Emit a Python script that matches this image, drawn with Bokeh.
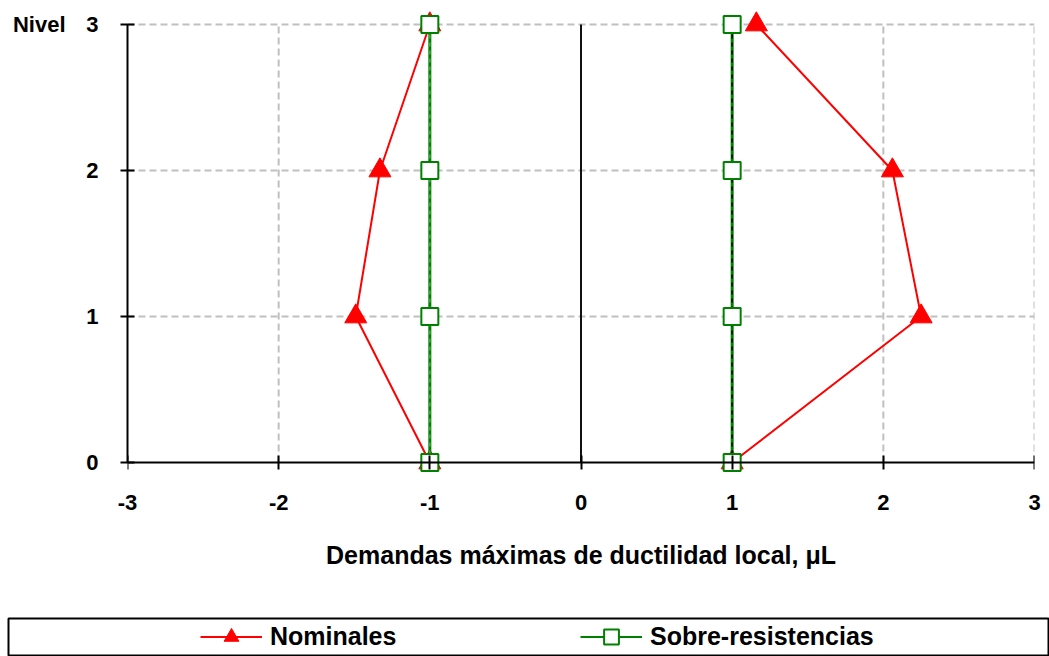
from bokeh.plotting import figure
from bokeh.models import (Range1d, FixedTicker, Legend, LegendItem,
                          ColumnDataSource, LinearAxis)
from bokeh.layouts import column
from bokeh.embed import file_html
from bokeh.resources import INLINE

# ---- data ----
niveles = [0, 1, 2, 3]
nominales_neg = [-1.0, -1.49, -1.33, -1.0]
nominales_pos = [1.0, 2.25, 2.06, 1.16]
sobre_neg = [-1.0, -1.0, -1.0, -1.0]
sobre_pos = [1.0, 1.0, 1.0, 1.0]
x_ticks = [-3, -2, -1, 0, 1, 2, 3]
y_ticks = [0, 1, 2, 3]
x_title = "Demandas máximas de ductilidad local, μL"
y_title = "Nivel"
serie_labels = ["Nominales", "Sobre-resistencias"]

FONT = "Liberation Sans"
RED = "#ff0000"
GREEN = "#008000"

X0, X1 = x_ticks[0], x_ticks[-1]
Y0, Y1 = y_ticks[0], y_ticks[-1]
PAD = 15 / 146.0  # room so markers on the outer levels are not cut

p = figure(width=1049, height=617, output_backend="svg", toolbar_location=None,
           x_range=Range1d(X0, X1), y_range=Range1d(Y0 - PAD, Y1 + PAD),
           min_border_left=127, min_border_right=15, min_border_top=9,
           min_border_bottom=140)
p.outline_line_color = None
p.background_fill_color = "white"
p.border_fill_color = "white"
p.grid.visible = False

# grid lines (dashed) bounded to the data box
gx = [t for t in x_ticks if t not in (X0, 0)]
gy = [t for t in y_ticks if t != Y0]
p.segment(x0=gx, y0=[Y0] * len(gx), x1=gx, y1=[Y1] * len(gx),
          line_color="#c0c0c0", line_width=2, line_dash="7 4")
p.segment(x0=[X0] * len(gy), y0=gy, x1=[X1] * len(gy), y1=gy,
          line_color="#c0c0c0", line_width=2, line_dash="7 4")
# zero line
p.segment(x0=[0], y0=[Y0], x1=[0], y1=[Y1], line_color="#111111", line_width=2)

def style_axis(ax):
    ax.axis_line_width = 2
    ax.axis_line_color = "black"
    ax.major_tick_line_width = 2
    ax.major_tick_line_color = "black"
    ax.major_tick_in = 7
    ax.major_tick_out = 7
    ax.minor_tick_line_color = None
    ax.major_label_text_font = FONT
    ax.major_label_text_font_style = "bold"
    ax.major_label_text_font_size = "22px"
    ax.major_label_text_color = "black"

# bottom axis: only tick labels and title
xa = p.xaxis[0]
style_axis(xa)
xa.axis_line_color = None
xa.major_tick_line_color = None
xa.major_tick_in = 0
xa.major_tick_out = 0
xa.ticker = FixedTicker(ticks=x_ticks)
xa.major_label_overrides = {t: str(t) for t in x_ticks}
xa.major_label_standoff = 17
xa.axis_label = x_title
xa.axis_label_text_font = FONT
xa.axis_label_text_font_style = "bold"
xa.axis_label_text_font_size = "25px"
xa.axis_label_text_color = "black"
xa.axis_label_standoff = 28

# axis line + ticks at level 0
x0_axis = LinearAxis(ticker=FixedTicker(ticks=x_ticks), fixed_location=Y0,
                     bounds=(X0, X1))
style_axis(x0_axis)
x0_axis.major_label_text_color = None
x0_axis.major_label_text_font_size = "1px"
x0_axis.major_label_standoff = 0
p.add_layout(x0_axis, "below")

# left axis
ya = p.yaxis[0]
style_axis(ya)
ya.ticker = FixedTicker(ticks=y_ticks)
ya.bounds = (Y0, Y1)
ya.major_label_standoff = 22

# "Nivel" title next to the top tick
nivel_axis = LinearAxis(ticker=FixedTicker(ticks=[Y1]),
                        major_label_overrides={Y1: y_title})
nivel_axis.axis_line_color = None
nivel_axis.major_tick_line_color = None
nivel_axis.minor_tick_line_color = None
nivel_axis.major_tick_in = 0
nivel_axis.major_tick_out = 0
nivel_axis.major_label_standoff = 18
nivel_axis.major_label_text_font = FONT
nivel_axis.major_label_text_font_style = "bold"
nivel_axis.major_label_text_font_size = "22px"
nivel_axis.major_label_text_color = "black"
p.add_layout(nivel_axis, "left")

# series
src_nom_neg = ColumnDataSource(dict(x=nominales_neg, y=niveles))
src_nom_pos = ColumnDataSource(dict(x=nominales_pos, y=niveles))
src_sob_neg = ColumnDataSource(dict(x=sobre_neg, y=niveles))
src_sob_pos = ColumnDataSource(dict(x=sobre_pos, y=niveles))

for s in (src_nom_neg, src_nom_pos):
    p.line("x", "y", source=s, line_color=RED, line_width=2)
    p.scatter("x", "y", source=s, marker="triangle", size=22,
              fill_color=RED, line_color=RED)

p.line("x", "y", source=src_sob_neg, line_color=GREEN, line_width=3)
p.line("x", "y", source=src_sob_neg, line_color="#4aa84a", line_width=1.5,
       line_dash="4 4")
p.line("x", "y", source=src_sob_pos, line_color=GREEN, line_width=3)
p.line("x", "y", source=src_sob_pos, line_color="black", line_width=1.5,
       line_dash="4 4")
for s in (src_sob_neg, src_sob_pos):
    p.scatter("x", "y", source=s, marker="square", size=17,
              fill_color="white", line_color=GREEN, line_width=2)

# ---- legend box (separate strip below the chart) ----
p2 = figure(width=1049, height=39, output_backend="svg", toolbar_location=None,
            x_range=Range1d(10, 11), y_range=Range1d(10, 11),
            x_axis_location=None, y_axis_location=None,
            min_border_left=8, min_border_right=0, min_border_top=1,
            min_border_bottom=1)
p2.grid.visible = False
p2.outline_line_color = "black"
p2.outline_line_width = 2
p2.background_fill_color = "white"
p2.border_fill_color = "white"

for fig in (p, p2):
    try:
        fig.frame_align = False
    except Exception:
        pass

# legend glyph renderers (their data lies outside this strip's ranges)
l1 = p2.line("x", "y", source=src_nom_pos, line_color=RED, line_width=2)
m1 = p2.scatter("x", "y", source=src_nom_pos, marker="triangle", size=22,
                fill_color=RED, line_color=RED)
l2 = p2.line("x", "y", source=src_sob_pos, line_color=GREEN, line_width=2)
m2 = p2.scatter("x", "y", source=src_sob_pos, marker="square", size=17,
                fill_color="white", line_color=GREEN, line_width=2)

legend = Legend(items=[LegendItem(label=serie_labels[0], renderers=[l1, m1]),
                       LegendItem(label=serie_labels[1], renderers=[l2, m2])],
                orientation="horizontal", location=(192, 0),
                padding=0, margin=0, spacing=0,
                glyph_width=62, glyph_height=37, label_height=37,
                label_width=310, label_standoff=8,
                label_text_font=FONT, label_text_font_style="bold",
                label_text_font_size="25px", label_text_color="black",
                border_line_color=None, background_fill_alpha=0)
p2.add_layout(legend, "center")

layout = column(p, p2, spacing=0)
open("out.html", "w").write(file_html(layout, INLINE))
